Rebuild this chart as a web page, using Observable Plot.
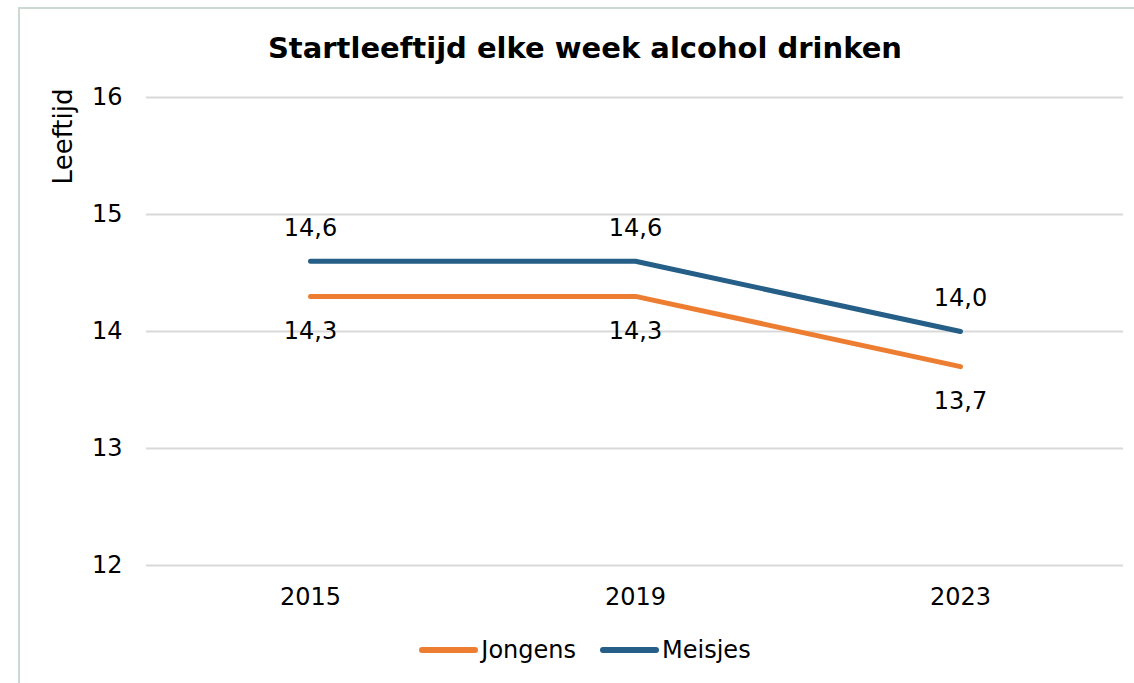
<!DOCTYPE html>
<html>
<head>
<meta charset="utf-8">
<script src="https://cdn.jsdelivr.net/npm/d3@7"></script>
<script src="https://cdn.jsdelivr.net/npm/@observablehq/plot@0.6"></script>
<style>
  html, body { margin: 0; padding: 0; background: #fff; overflow: hidden; }
  body { width: 1134px; height: 683px; position: relative; font-family: "DejaVu Sans", Verdana, sans-serif; }
  #frame { position: absolute; left: 18px; top: 7px; width: 1300px; height: 800px;
           border-left: 2px solid #cbdad0; border-top: 2px solid #cbdad0; }
  #title { position: absolute; left: 19px; width: 1132px; top: 28px; text-align: center;
           font-weight: bold; font-size: 29px; color: #000; line-height: 40px; }
  #chart { position: absolute; left: 0; top: 80px; }
  #legend { position: absolute; left: 0; width: 1170px; top: 636px; display: flex; justify-content: center;
            align-items: center; font-size: 24px; color: #000; }
  .item { display: flex; align-items: center; margin: 0 12px; }
  .item svg { margin-right: 3px; }
</style>
</head>
<body>
<div id="frame"></div>
<div id="title">Startleeftijd elke week alcohol drinken</div>
<div id="chart"></div>
<div id="legend"></div>
<script>
const years = ["2015", "2019", "2023"];
const jongens = [14.3, 14.3, 13.7];
const meisjes = [14.6, 14.6, 14.0];
const seriesNames = ["Jongens", "Meisjes"];
const seriesColors = ["#ED7D31", "#255E86"];
const yTicks = [12, 13, 14, 15, 16];
const yLabel = "Leeftijd";

const rows = [];
years.forEach((y, i) => {
  rows.push({year: y, value: jongens[i], series: "Jongens"});
  rows.push({year: y, value: meisjes[i], series: "Meisjes"});
});
const fmt = v => v.toFixed(1).replace(".", ",");

const plot = Plot.plot({
  width: 1134,
  height: 540,
  marginLeft: 146,
  marginRight: 11,
  marginTop: 17,
  marginBottom: 55,
  style: {fontFamily: "DejaVu Sans, Verdana, sans-serif", fontSize: "24px", color: "#000", background: "transparent"},
  x: {type: "point", domain: years, padding: 0.5, label: null, tickSize: 0, tickPadding: 22},
  y: {domain: [12, 16], ticks: yTicks, label: null, tickSize: 0, tickPadding: 24, tickFormat: d => String(d)},
  color: {domain: seriesNames, range: seriesColors},
  marks: [
    Plot.gridY(yTicks, {stroke: "#d9d9d9", strokeOpacity: 1, strokeWidth: 2}),
    Plot.line(rows, {x: "year", y: "value", z: "series", stroke: "series", strokeWidth: 5, strokeLinecap: "round", strokeLinejoin: "round"}),
    Plot.text(rows.filter(d => d.series === "Meisjes"), {x: "year", y: "value", text: d => fmt(d.value), dy: -33, fill: "#000", fontSize: 24}),
    Plot.text(rows.filter(d => d.series === "Jongens"), {x: "year", y: "value", text: d => fmt(d.value), dy: 35, fill: "#000", fontSize: 24}),
    Plot.text([yLabel], {frameAnchor: "top-left", text: d => d, rotate: -90, textAnchor: "end", dx: -93, dy: -9, fill: "#000", fontSize: 26})
  ]
});
document.getElementById("chart").appendChild(plot);

const legend = document.getElementById("legend");
seriesNames.forEach((name, i) => {
  const item = document.createElement("div");
  item.className = "item";
  item.innerHTML = `<svg width="59" height="10"><line x1="3" y1="5" x2="56" y2="5" stroke="${seriesColors[i]}" stroke-width="6" stroke-linecap="round"/></svg><span>${name}</span>`;
  legend.appendChild(item);
});
</script>
</body>
</html>
